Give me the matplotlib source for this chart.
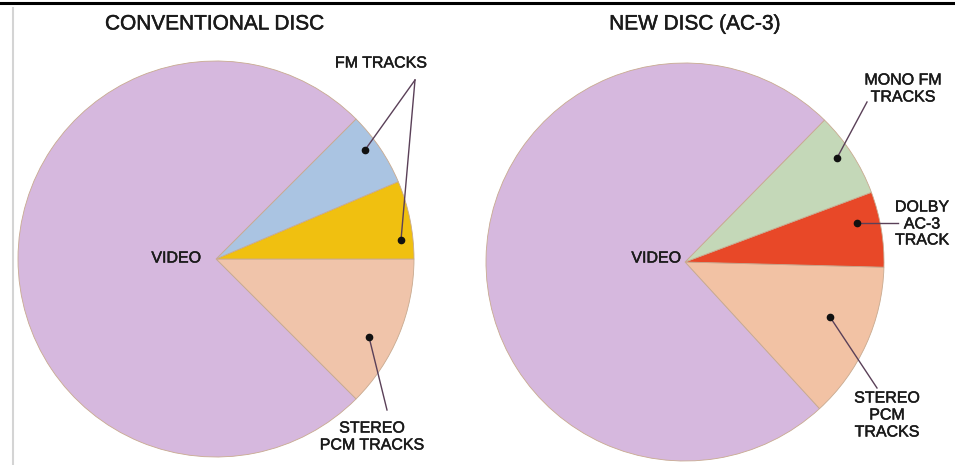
import matplotlib.pyplot as plt
import matplotlib.patheffects as pe
from matplotlib.lines import Line2D

plt.rcParams['font.family'] = ['Liberation Sans', 'DejaVu Sans']

H = 465  # image height in px, used to flip y (layout only)

# conventional disc: slice sizes in degrees, counter-clockwise from the PCM slice
conv_names = ["STEREO PCM", "FM TRACK 2", "FM TRACK 1", "VIDEO"]
conv_sizes = [45, 23, 22, 270]
conv_colors = ["#f0c4aa", "#f0c010", "#aac4e2", "#d6b8de"]

# new disc (AC-3)
new_names = ["STEREO PCM", "DOLBY AC-3", "MONO FM", "VIDEO"]
new_sizes = [46, 22, 25, 267]
new_colors = ["#f2c2a4", "#e84828", "#c4d8b8", "#d6b8de"]

titles = ["CONVENTIONAL DISC", "NEW DISC (AC-3)"]


def y(py):
    return H - py


fig = plt.figure(figsize=(9.55, 4.65), dpi=100)
ax = fig.add_axes([0, 0, 1, 1])

wp = dict(edgecolor="#c8aa90", linewidth=0.6)
ax.pie(conv_sizes, colors=conv_colors, startangle=-45, counterclock=True,
       center=(216, y(259)), radius=198, wedgeprops=wp, frame=True)
ax.pie(new_sizes, colors=new_colors, startangle=-47.5, counterclock=True,
       center=(685, y(262)), radius=199, wedgeprops=wp, frame=True)

ax.set_xlim(0, 955)
ax.set_ylim(0, H)
ax.set_aspect("equal")
ax.axis("off")

# frame lines of the scanned page
ax.add_line(Line2D([0, 955], [y(3), y(3)], color="black", lw=2.2))
ax.add_line(Line2D([12.5, 12.5], [y(8), 0], color="#d4d4d4", lw=1.5))

heavy = [pe.withStroke(linewidth=0.35, foreground="#1a1a1a")]

tkw = dict(fontsize=15, color="#1a1a1a", ha="center", va="center",
           path_effects=heavy)
ax.text(215, y(24), titles[0], **tkw)
ax.text(695, y(24), titles[1], **tkw)

lkw = dict(fontsize=11.5, color="#1a1a1a", va="center", path_effects=heavy)
ax.text(201, y(258), "VIDEO", ha="right", **lkw)
ax.text(681, y(258), "VIDEO", ha="right", **lkw)

lead = "#5a4058"


def leader(x0, y0, x1, y1):
    ax.plot([x0, x1], [y(y0), y(y1)], color=lead, lw=1.0)
    ax.plot([x0], [y(y0)], "o", color="#111111", ms=4.5)


# conventional disc labels
ax.text(381, y(63), "FM TRACKS", ha="center", **lkw)
leader(365, 150, 415, 80)
leader(401, 240, 415, 80)
ax.text(372, y(428), "STEREO", ha="center", **lkw)
ax.text(372, y(445), "PCM TRACKS", ha="center", **lkw)
leader(369, 337, 387, 410)

# new disc labels
ax.text(903, y(80), "MONO FM", ha="center", **lkw)
ax.text(903, y(97), "TRACKS", ha="center", **lkw)
leader(837, 158, 867, 102)
ax.text(922, y(207), "DOLBY", ha="center", **lkw)
ax.text(922, y(224), "AC-3", ha="center", **lkw)
ax.text(922, y(240), "TRACK", ha="center", **lkw)
leader(857, 223, 898, 223)
ax.text(887, y(398), "STEREO", ha="center", **lkw)
ax.text(887, y(415), "PCM", ha="center", **lkw)
ax.text(887, y(432), "TRACKS", ha="center", **lkw)
leader(830, 317, 877, 388)

fig.savefig("out.png", dpi=100)
